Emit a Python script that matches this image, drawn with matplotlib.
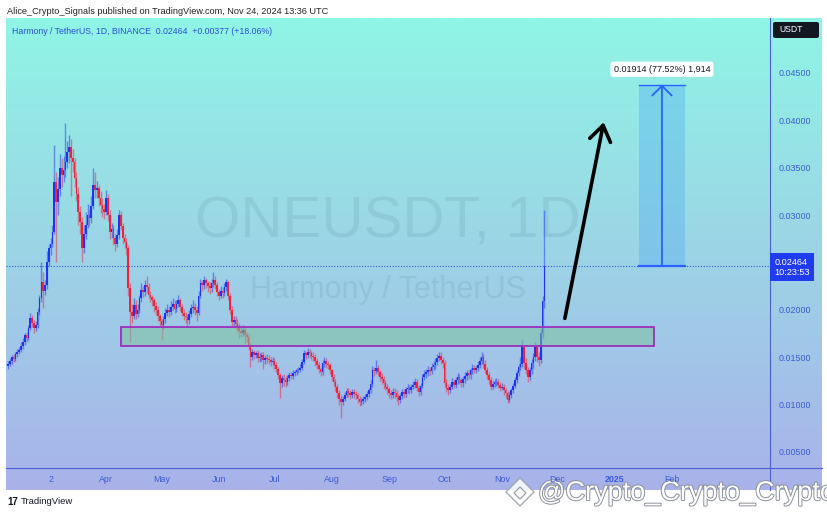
import numpy as np
import pandas as pd
import matplotlib
matplotlib.use("Agg")
import matplotlib.pyplot as plt
import matplotlib.dates as mdates
import matplotlib.patheffects as pe
from matplotlib.patches import Rectangle, FancyBboxPatch, Polygon
from matplotlib.colors import LinearSegmentedColormap

plt.rcParams['font.family'] = ['Liberation Sans', 'DejaVu Sans']

# ==========================================
# DATA (ONE/USDT daily)
# ==========================================
start_date = "2024-02-08"
first_open = 0.0141

closes = [
    0.0143, 0.0146, 0.0150, 0.0148, 0.0153, 0.0156, 0.0158, 0.0162, 0.0166, 0.0173,
    0.0170, 0.0181, 0.0191, 0.0186, 0.0181, 0.0184, 0.0198, 0.0212, 0.0229, 0.0220,
    0.0226, 0.0250, 0.0265, 0.0270, 0.0282, 0.0335, 0.0314, 0.0328, 0.0350, 0.0342,
    0.0348, 0.0356, 0.0367, 0.0372, 0.0360, 0.0356, 0.0339, 0.0322, 0.0303, 0.0293,
    0.0265, 0.0280, 0.0290, 0.0300, 0.0297, 0.0310, 0.0332, 0.0326, 0.0329, 0.0318,
    0.0311, 0.0306, 0.0303, 0.0318, 0.0300, 0.0282, 0.0285, 0.0276, 0.0270, 0.0279,
    0.0300, 0.0288, 0.0276, 0.0272, 0.0265, 0.0223, 0.0198, 0.0193, 0.0205, 0.0196,
    0.0200, 0.0212, 0.0221, 0.0219, 0.0226, 0.0224, 0.0216, 0.0214, 0.0210, 0.0204,
    0.0200, 0.0193, 0.0188, 0.0184, 0.0190, 0.0197, 0.0200, 0.0198, 0.0203, 0.0206,
    0.0201, 0.0206, 0.0210, 0.0203, 0.0197, 0.0194, 0.0192, 0.0189, 0.0196, 0.0202,
    0.0203, 0.0200, 0.0197, 0.0215, 0.0228, 0.0226, 0.0231, 0.0228, 0.0225, 0.0223,
    0.0228, 0.0232, 0.0226, 0.0219, 0.0215, 0.0220, 0.0218, 0.0224, 0.0229, 0.0215,
    0.0200, 0.0187, 0.0189, 0.0185, 0.0182, 0.0178, 0.0176, 0.0179, 0.0173, 0.0171,
    0.0162, 0.0150, 0.0155, 0.0152, 0.0154, 0.0149, 0.0150, 0.0152, 0.0147, 0.0149,
    0.0148, 0.0147, 0.0145, 0.0146, 0.0142, 0.0138, 0.0131, 0.0123, 0.0128, 0.0126,
    0.0124, 0.0128, 0.0131, 0.0130, 0.0133, 0.0134, 0.0136, 0.0137, 0.0139, 0.0145,
    0.0154, 0.0152, 0.0156, 0.0154, 0.0151, 0.0150, 0.0146, 0.0142, 0.0138, 0.0134,
    0.0144, 0.0146, 0.0143, 0.0142, 0.0136, 0.0129, 0.0124, 0.0119, 0.0112, 0.0106,
    0.0103, 0.0106, 0.0110, 0.0114, 0.0112, 0.0110, 0.0113, 0.0111, 0.0110, 0.0106,
    0.0103, 0.0104, 0.0106, 0.0108, 0.0111, 0.0115, 0.0122, 0.0137, 0.0135, 0.0139,
    0.0134, 0.0129, 0.0127, 0.0123, 0.0119, 0.0116, 0.0112, 0.0110, 0.0113, 0.0112,
    0.0108, 0.0105, 0.0109, 0.0113, 0.0111, 0.0116, 0.0118, 0.0115, 0.0119, 0.0121,
    0.0124, 0.0118, 0.0113, 0.0120, 0.0129, 0.0132, 0.0134, 0.0137, 0.0135, 0.0140,
    0.0142, 0.0145, 0.0149, 0.0151, 0.0147, 0.0144, 0.0123, 0.0118, 0.0115, 0.0119,
    0.0124, 0.0121, 0.0126, 0.0129, 0.0126, 0.0123, 0.0127, 0.0130, 0.0133, 0.0131,
    0.0136, 0.0139, 0.0137, 0.0139, 0.0142, 0.0146, 0.0150, 0.0143, 0.0137, 0.0131,
    0.0126, 0.0119, 0.0122, 0.0124, 0.0124, 0.0121, 0.0118, 0.0119, 0.0115, 0.0112,
    0.0105, 0.0110, 0.0115, 0.0120, 0.0126, 0.0133, 0.0140, 0.0143, 0.0161, 0.0144,
    0.0137, 0.0129, 0.0136, 0.0144, 0.0150, 0.0161, 0.0150, 0.0147, 0.0176, 0.0209,
    0.02464,
]

highs = [
    0.0146, 0.0149, 0.0152, 0.0153, 0.0156, 0.0159, 0.0161, 0.0166, 0.0170, 0.0176,
    0.0177, 0.0184, 0.0197, 0.0195, 0.0189, 0.0188, 0.0202, 0.0216, 0.0250, 0.0240,
    0.0232, 0.0262, 0.0270, 0.0276, 0.0290, 0.0374, 0.0345, 0.0340, 0.0365, 0.0360,
    0.0362, 0.0397, 0.0378, 0.0385, 0.0380, 0.0370, 0.0360, 0.0345, 0.0330, 0.0310,
    0.0298, 0.0290, 0.0303, 0.0312, 0.0306, 0.0320, 0.0350, 0.0345, 0.0336, 0.0332,
    0.0325, 0.0318, 0.0312, 0.0326, 0.0322, 0.0305, 0.0292, 0.0290, 0.0280, 0.0285,
    0.0305, 0.0304, 0.0292, 0.0280, 0.0276, 0.0268, 0.0228, 0.0206, 0.0212, 0.0210,
    0.0206, 0.0216, 0.0228, 0.0225, 0.0232, 0.0236, 0.0228, 0.0220, 0.0216, 0.0212,
    0.0208, 0.0204, 0.0196, 0.0190, 0.0194, 0.0202, 0.0206, 0.0204, 0.0209, 0.0212,
    0.0210, 0.0210, 0.0216, 0.0213, 0.0206, 0.0201, 0.0198, 0.0196, 0.0200, 0.0206,
    0.0210, 0.0207, 0.0204, 0.0220, 0.0233, 0.0232, 0.0236, 0.0234, 0.0230, 0.0229,
    0.0233, 0.0240, 0.0236, 0.0229, 0.0222, 0.0225, 0.0224, 0.0228, 0.0233, 0.0231,
    0.0218, 0.0204, 0.0194, 0.0193, 0.0190, 0.0186, 0.0183, 0.0184, 0.0182, 0.0177,
    0.0175, 0.0165, 0.0159, 0.0158, 0.0157, 0.0158, 0.0154, 0.0155, 0.0156, 0.0152,
    0.0153, 0.0152, 0.0150, 0.0150, 0.0149, 0.0145, 0.0140, 0.0133, 0.0131, 0.0132,
    0.0130, 0.0131, 0.0134, 0.0134, 0.0136, 0.0137, 0.0139, 0.0140, 0.0143, 0.0148,
    0.0158, 0.0157, 0.0160, 0.0159, 0.0157, 0.0155, 0.0153, 0.0149, 0.0145, 0.0140,
    0.0147, 0.0150, 0.0149, 0.0146, 0.0144, 0.0138, 0.0132, 0.0127, 0.0122, 0.0115,
    0.0110, 0.0109, 0.0113, 0.0118, 0.0117, 0.0115, 0.0116, 0.0116, 0.0114, 0.0112,
    0.0109, 0.0107, 0.0109, 0.0111, 0.0114, 0.0118, 0.0126, 0.0141, 0.0140, 0.0147,
    0.0142, 0.0137, 0.0133, 0.0130, 0.0126, 0.0122, 0.0119, 0.0115, 0.0117, 0.0117,
    0.0115, 0.0111, 0.0112, 0.0116, 0.0116, 0.0119, 0.0122, 0.0121, 0.0122, 0.0125,
    0.0128, 0.0127, 0.0121, 0.0123, 0.0132, 0.0136, 0.0138, 0.0141, 0.0140, 0.0144,
    0.0146, 0.0149, 0.0153, 0.0156, 0.0155, 0.0150, 0.0147, 0.0127, 0.0122, 0.0122,
    0.0128, 0.0127, 0.0129, 0.0133, 0.0132, 0.0128, 0.0130, 0.0134, 0.0137, 0.0136,
    0.0139, 0.0143, 0.0142, 0.0142, 0.0146, 0.0150, 0.0156, 0.0153, 0.0147, 0.0140,
    0.0134, 0.0129, 0.0125, 0.0127, 0.0128, 0.0127, 0.0124, 0.0123, 0.0122, 0.0118,
    0.0114, 0.0113, 0.0118, 0.0123, 0.0129, 0.0136, 0.0143, 0.0150, 0.0168, 0.0163,
    0.0149, 0.0140, 0.0140, 0.0148, 0.0154, 0.0166, 0.0164, 0.0155, 0.0180, 0.0215,
    0.0305,
]

lows = [
    0.0138, 0.0141, 0.0143, 0.0145, 0.0146, 0.0150, 0.0153, 0.0155, 0.0159, 0.0163,
    0.0166, 0.0168, 0.0179, 0.0182, 0.0176, 0.0178, 0.0181, 0.0195, 0.0208, 0.0202,
    0.0216, 0.0222, 0.0246, 0.0258, 0.0266, 0.0280, 0.0250, 0.0300, 0.0320, 0.0330,
    0.0335, 0.0340, 0.0350, 0.0355, 0.0320, 0.0345, 0.0330, 0.0315, 0.0290, 0.0280,
    0.0250, 0.0260, 0.0275, 0.0286, 0.0288, 0.0292, 0.0306, 0.0318, 0.0318, 0.0310,
    0.0302, 0.0298, 0.0296, 0.0300, 0.0294, 0.0275, 0.0276, 0.0268, 0.0262, 0.0266,
    0.0275, 0.0284, 0.0270, 0.0265, 0.0258, 0.0215, 0.0166, 0.0186, 0.0190, 0.0190,
    0.0192, 0.0197, 0.0208, 0.0214, 0.0215, 0.0218, 0.0212, 0.0208, 0.0204, 0.0198,
    0.0195, 0.0188, 0.0182, 0.0168, 0.0180, 0.0186, 0.0193, 0.0192, 0.0195, 0.0200,
    0.0197, 0.0198, 0.0203, 0.0199, 0.0193, 0.0189, 0.0186, 0.0182, 0.0185, 0.0192,
    0.0197, 0.0195, 0.0188, 0.0195, 0.0212, 0.0220, 0.0222, 0.0223, 0.0219, 0.0217,
    0.0219, 0.0224, 0.0222, 0.0215, 0.0210, 0.0212, 0.0213, 0.0215, 0.0220, 0.0210,
    0.0196, 0.0183, 0.0183, 0.0180, 0.0177, 0.0170, 0.0171, 0.0172, 0.0164, 0.0166,
    0.0158, 0.0140, 0.0147, 0.0148, 0.0149, 0.0145, 0.0145, 0.0146, 0.0138, 0.0143,
    0.0144, 0.0143, 0.0141, 0.0142, 0.0138, 0.0134, 0.0127, 0.0107, 0.0119, 0.0120,
    0.0119, 0.0121, 0.0125, 0.0127, 0.0127, 0.0130, 0.0131, 0.0133, 0.0134, 0.0137,
    0.0143, 0.0148, 0.0149, 0.0150, 0.0147, 0.0146, 0.0141, 0.0138, 0.0133, 0.0130,
    0.0131, 0.0140, 0.0139, 0.0138, 0.0132, 0.0125, 0.0120, 0.0114, 0.0107, 0.0100,
    0.0086, 0.0100, 0.0104, 0.0108, 0.0108, 0.0106, 0.0107, 0.0107, 0.0106, 0.0102,
    0.0099, 0.0100, 0.0101, 0.0103, 0.0105, 0.0108, 0.0112, 0.0119, 0.0130, 0.0132,
    0.0130, 0.0125, 0.0122, 0.0118, 0.0115, 0.0111, 0.0107, 0.0106, 0.0107, 0.0107,
    0.0104, 0.0100, 0.0102, 0.0106, 0.0107, 0.0108, 0.0112, 0.0111, 0.0112, 0.0116,
    0.0117, 0.0114, 0.0109, 0.0110, 0.0117, 0.0126, 0.0128, 0.0130, 0.0131, 0.0132,
    0.0136, 0.0138, 0.0142, 0.0146, 0.0143, 0.0139, 0.0119, 0.0113, 0.0110, 0.0112,
    0.0116, 0.0117, 0.0118, 0.0122, 0.0122, 0.0119, 0.0119, 0.0123, 0.0126, 0.0127,
    0.0127, 0.0132, 0.0133, 0.0133, 0.0135, 0.0139, 0.0143, 0.0139, 0.0133, 0.0127,
    0.0122, 0.0115, 0.0116, 0.0119, 0.0120, 0.0117, 0.0114, 0.0115, 0.0110, 0.0107,
    0.0102, 0.0103, 0.0107, 0.0112, 0.0117, 0.0123, 0.0130, 0.0136, 0.0140, 0.0138,
    0.0132, 0.0124, 0.0126, 0.0132, 0.0139, 0.0146, 0.0145, 0.0141, 0.0144, 0.0170,
    0.0202,
]

# support zone (drawn box)
zone_start, zone_end = "2024-04-09", "2025-01-22"
zone_low, zone_high = 0.01619, 0.01819

# hand-drawn arrow
arrow_from = ("2024-12-05", 0.0191)
arrow_to = ("2024-12-26", 0.0398)

# price-range tool
measure_start, measure_end = "2025-01-14", "2025-02-08"
measure_gain = 0.01914
measure_pct = 77.52
measure_ticks = 1914

price_ticks = [0.005, 0.010, 0.015, 0.020, 0.030, 0.035, 0.040, 0.045]
date_ticks = ["2024-03-02", "2024-04-01", "2024-05-01", "2024-06-01", "2024-07-01",
              "2024-08-01", "2024-09-01", "2024-10-01", "2024-11-01", "2024-12-01",
              "2025-01-01", "2025-02-01"]
date_labels = ["2", "Apr", "May", "Jun", "Jul", "Aug", "Sep", "Oct", "Nov", "Dec", "2025", "Feb"]

UP = "#1f34f2"
DOWN = "#f4213a"
AXIS_BLUE = "#3a5ad6"


def d2n(s):
    return mdates.date2num(pd.Timestamp(s))


closes = np.array(closes)
highs = np.array(highs)
lows = np.array(lows)
opens = np.concatenate([[first_open], closes[:-1]])
x = mdates.date2num(pd.date_range(start_date, periods=len(closes)))
last = closes[-1]

# ==========================================
# FIGURE + BACKGROUND
# ==========================================
W, H = 828, 514
fig = plt.figure(figsize=(W / 100, H / 100), dpi=100)
fig.patch.set_facecolor("white")

bg = fig.add_axes([0, 0, 1, 1], zorder=0)
grad = np.linspace(0, 1, 256).reshape(-1, 1)
cmap = LinearSegmentedColormap.from_list("tv", ["#8ff5e5", "#9cd4e6", "#a9b2ea"])
bg.imshow(grad, cmap=cmap, extent=[6, 822, 490, 18], aspect="auto")
bg.set_xlim(0, W)
bg.set_ylim(H, 0)
bg.axis("off")

# frame lines of the price scale / time scale
bg.plot([770, 770], [18, 490], color="#4d5fd6", lw=0.8)
bg.plot([6, 822], [468, 468], color="#4d5fd6", lw=0.8)

# header
bg.text(7, 11, "Alice_Crypto_Signals published on TradingView.com, Nov 24, 2024 13:36 UTC",
        fontsize=6.6, color="#222222", va="center")
bg.text(12, 31, "Harmony / TetherUS, 1D, BINANCE  0.02464  +0.00377 (+18.06%)",
        fontsize=6.3, color="#2a4fd6", va="center")

# USDT box
bg.add_patch(FancyBboxPatch((773, 22), 46, 16, boxstyle="round,pad=0,rounding_size=2",
                            facecolor="#131722", edgecolor="none"))
bg.text(779, 30, "USDT", fontsize=6.2, color="white", va="center")

# footer
bg.text(7, 502, "17", fontsize=7, fontweight="bold", color="#131722", va="center")
bg.text(21, 502, "TradingView", fontsize=6.8, color="#131722", va="center")

stroke = [pe.withStroke(linewidth=1.4, foreground="#8a8f99")]
bg.add_patch(Polygon([[520, 478], [534, 492], [520, 506], [506, 492]], closed=True,
                     facecolor="white", edgecolor="#9a9fa8", lw=1.0, alpha=0.85))
bg.add_patch(Polygon([[520, 487], [526, 493], [520, 499], [514, 493]], closed=True,
                     facecolor="none", edgecolor="#9a9fa8", lw=0.9))
bg.text(538, 493, "@Crypto_Crypto_Crypto", fontsize=19.5, color="white",
        va="center", path_effects=stroke, clip_on=False)

# ==========================================
# PRICE CHART
# ==========================================
ax = fig.add_axes([6 / W, 46 / H, 764 / W, 450 / H], zorder=1)
ax.patch.set_alpha(0)

x0 = x[0]
ax.set_xlim(x0 - 1.1, x0 + 411.9)
ax.set_ylim(0.00331, 0.0508)

# watermark
ax.text(0.5, 0.545, "ONEUSDT, 1D", transform=ax.transAxes, fontsize=42,
        color="#3d6a80", alpha=0.12, ha="center", va="center")
ax.text(0.5, 0.395, "Harmony / TetherUS", transform=ax.transAxes, fontsize=22,
        color="#3d6a80", alpha=0.12, ha="center", va="center")

# candles
up = closes >= opens
cols = np.where(up, UP, DOWN)
ax.vlines(x, lows, highs, colors=cols, lw=1.0, alpha=0.5, zorder=3)
ax.bar(x, np.abs(closes - opens), bottom=np.minimum(opens, closes), width=0.9,
       color=cols, linewidth=0, zorder=4)

# last price line
ax.axhline(last, color="#3a5ad6", lw=0.8, ls=(0, (1, 1.5)), zorder=2)

# support zone
zs, ze = d2n(zone_start), d2n(zone_end)
ax.add_patch(Rectangle((zs, zone_low), ze - zs, zone_high - zone_low,
                       facecolor="#7cc29e", alpha=0.55, edgecolor="none", zorder=5))
ax.add_patch(Rectangle((zs, zone_low), ze - zs, zone_high - zone_low,
                       facecolor="none", edgecolor="#9b2fc0", lw=1.3, zorder=6))

# arrow
ax.annotate("", xy=(d2n(arrow_to[0]), arrow_to[1]), xytext=(d2n(arrow_from[0]), arrow_from[1]),
            arrowprops=dict(arrowstyle="->,head_length=0.55,head_width=0.38", lw=2.6,
                            color="black", mutation_scale=20, shrinkA=0, shrinkB=0),
            zorder=7)

# price range tool
ms, me = d2n(measure_start), d2n(measure_end)
mtop = last + measure_gain
mc = (ms + me) / 2
ax.add_patch(Rectangle((ms, last), me - ms, measure_gain, facecolor="#4aa8f2",
                       alpha=0.35, edgecolor="none", zorder=5))
ax.plot([ms, me], [last, last], color="#2962ff", lw=1.6, zorder=6)
ax.plot([ms, me], [mtop, mtop], color="#2962ff", lw=1.0, zorder=6)
ax.annotate("", xy=(mc, mtop), xytext=(mc, last),
            arrowprops=dict(arrowstyle="->,head_length=0.35,head_width=0.35", lw=1.3,
                            color="#2962ff", mutation_scale=20, shrinkA=0, shrinkB=0),
            zorder=7)
ax.annotate(f"{measure_gain:.5f} ({measure_pct:.2f}%) {measure_ticks:,}", xy=(mc, mtop),
            xytext=(0, 11), textcoords="offset points", ha="center", va="center",
            fontsize=6.5, color="#131722", zorder=8,
            bbox=dict(boxstyle="round,pad=0.35,rounding_size=0.3", facecolor="white",
                      edgecolor="none"))

# axes styling
for s in ax.spines.values():
    s.set_visible(False)
ax.yaxis.tick_right()
ax.set_yticks(price_ticks)
ax.set_yticklabels([f"{p:.5f}" for p in price_ticks])
ax.set_xticks([d2n(d) for d in date_ticks])
ax.set_xticklabels(date_labels)
for lbl in ax.get_xticklabels():
    if lbl.get_text() == "2025":
        lbl.set_fontweight("bold")
ax.tick_params(axis="y", length=0, pad=6, labelsize=6.4, labelcolor=AXIS_BLUE)
ax.tick_params(axis="x", length=0, pad=5, labelsize=6.4, labelcolor=AXIS_BLUE)

# current price label
ax.annotate(f"{last:.5f}\n10:23:53", xy=(1, last), xycoords=ax.get_yaxis_transform(),
            xytext=(3, 6), textcoords="offset points", ha="left", va="top",
            fontsize=6.6, color="white", linespacing=1.15, annotation_clip=False,
            bbox=dict(boxstyle="square,pad=0.45", facecolor="#1f3cf0", edgecolor="none"))

fig.savefig("out.png", dpi=100)
